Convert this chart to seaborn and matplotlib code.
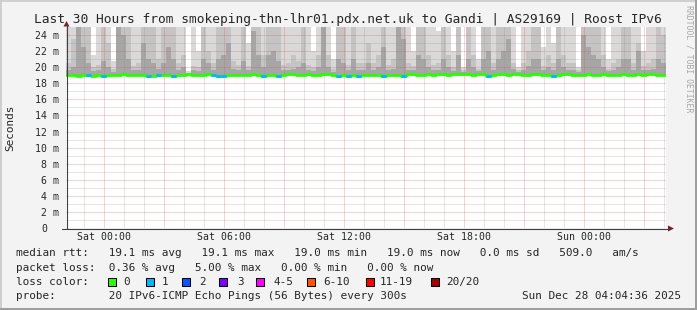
import numpy as np
import pandas as pd
import matplotlib
matplotlib.use("Agg")
import matplotlib.pyplot as plt
import matplotlib.transforms as mtransforms
from matplotlib.patches import Rectangle, Polygon
from matplotlib.lines import Line2D
import seaborn as sns

# ---------------- data ----------------
TITLE = "Last 30 Hours from smokeping-thn-lhr01.pdx.net.uk to Gandi | AS29169 | Roost IPv6"
T_START = -1.9233          # hours relative to Sat 00:00 (Fri 22:04:36)
BIN_H = 0.25               # 15 minute bins
x_tick_pos = [0, 6, 12, 18, 24]
x_tick_labels = ["Sat 00:00", "Sat 06:00", "Sat 12:00", "Sat 18:00", "Sun 00:00"]
y_tick_pos = [0, 2, 4, 6, 8, 10, 12, 14, 16, 18, 20, 22, 24]
y_tick_labels = ["0", "2 m", "4 m", "6 m", "8 m", "10 m", "12 m", "14 m", "16 m",
                 "18 m", "20 m", "22 m", "24 m"]

median_ms = [
    19.0, 19.0, 18.9, 19.0, 19.0, 18.9, 19.0, 18.9, 19.0, 19.0,
    19.0, 19.1, 19.0, 19.0, 19.0, 19.0, 18.9, 18.9, 19.0, 19.0,
    19.0, 18.9, 19.0, 19.0, 19.1, 19.0, 19.0, 19.0, 19.1, 19.0,
    18.9, 18.9, 19.0, 19.0, 19.0, 19.0, 19.0, 19.1, 19.0, 18.9,
    19.0, 19.0, 18.9, 19.0, 19.1, 19.1, 19.0, 19.0, 19.1, 19.0,
    19.0, 19.1, 19.1, 19.0, 18.9, 19.0, 18.9, 19.0, 18.9, 19.0,
    19.0, 19.0, 19.0, 18.9, 19.0, 19.0, 19.0, 18.9, 19.1, 19.1,
    19.0, 19.0, 19.1, 19.0, 19.1, 19.1, 19.0, 19.1, 19.1, 19.1,
    19.1, 19.0, 19.1, 19.1, 18.9, 19.0, 19.1, 19.1, 19.0, 19.1,
    19.1, 19.0, 19.0, 19.1, 19.1, 19.0, 19.0, 18.9, 19.0, 19.1,
    19.1, 19.0, 19.0, 19.0, 19.1, 19.0, 19.0, 19.1, 19.0, 19.0,
    19.0, 19.1, 19.0, 19.0, 19.1, 19.0, 19.1, 19.1, 19.0, 19.0,
]
lost_pings = [0] * 120
for _i in [4, 7, 16, 18, 21, 29, 30, 31, 39, 42, 54, 56, 58, 63, 67, 84, 97]:
    lost_pings[_i] = 1

# smoke: top of the lightest (max ping), medium and darkest layers, per 15 min bin
smoke_hi = [
    25, 25, 25, 25, 25, 21.5, 25, 25, 25, 20.8,
    25, 25, 25, 25, 25, 25, 25, 25, 25, 25,
    25, 25, 25, 25, 19.5, 25, 22, 25, 25, 25,
    25, 25, 25, 25, 25, 25, 23, 25, 25, 25,
    25, 25, 25, 25, 25, 25, 25, 25, 25, 22,
    25, 25, 25, 21, 25, 25, 25, 25, 25, 25,
    25, 25, 25, 25, 25, 25, 25, 25, 25, 22,
    25, 25, 25, 25, 24.5, 25, 25, 22, 25, 20,
    25, 25, 21, 25, 25, 25, 25, 25, 25, 25,
    20, 25, 25, 25, 25, 22.5, 25, 23, 25, 25,
    25, 25, 20, 25, 25, 25, 25, 25, 21, 25,
    25, 25, 25, 25, 25, 22, 25, 25, 25, 25,
]
smoke_mid = [
    20.5, 23.5, 25, 25, 25, 20, 20.3, 25, 23, 19.8,
    25, 25, 25, 20.2, 20.5, 25, 25, 25, 21, 25,
    25, 25, 20.5, 21.5, 19.3, 20.2, 20, 25, 22, 20.5,
    25, 25, 25, 20.8, 20.3, 25, 20.2, 25, 25, 21.5,
    25, 25, 25, 20.3, 20.5, 21.5, 20.8, 25, 20.3, 20,
    21.5, 25, 21.5, 19.8, 25, 25, 20.3, 25, 20.5, 20.5,
    23, 20.5, 21.5, 25, 20.3, 21, 25, 25, 20.5, 20.2,
    25, 25, 21.5, 20.3, 20.5, 25, 21.5, 20, 25, 19.6,
    25, 21.5, 19.8, 25, 25, 20.5, 25, 25, 25, 20.5,
    19.6, 20.5, 22, 25, 25, 20.2, 21.5, 20.5, 25, 21.5,
    20.5, 20.5, 19.6, 25, 25, 25, 25, 21.5, 19.8, 20.5,
    21, 25, 25, 20.5, 23, 20.2, 20.5, 21, 25, 24,
]
smoke_low = [
    19.6, 20, 25, 22.5, 20.5, 19.5, 19.6, 20.8, 20, 19.4,
    25, 24, 21, 19.6, 19.7, 23, 21, 20.5, 19.8, 20.5,
    22.5, 21, 19.7, 20, 19.2, 19.6, 19.5, 21, 20.5, 19.7,
    21, 21.5, 23, 19.8, 19.6, 20.8, 19.6, 24.5, 21.5, 20,
    21.5, 22, 20.8, 19.6, 19.7, 19.8, 20, 20.5, 19.6, 19.5,
    20, 25, 20, 19.4, 21, 20.5, 19.6, 21, 19.7, 19.7,
    20.5, 19.7, 20, 22.5, 19.6, 19.8, 25, 23.5, 19.7, 19.6,
    21.5, 21, 20, 19.6, 19.7, 21, 20, 19.5, 21.5, 19.4,
    21, 20, 19.5, 21, 22, 19.7, 21, 22, 23.5, 19.8,
    19.4, 19.7, 20.2, 21, 21, 19.7, 20, 19.7, 21, 20,
    19.7, 19.7, 19.4, 24, 22.5, 21.5, 21, 20, 19.5, 19.7,
    20, 21, 21, 19.7, 22, 19.6, 19.7, 19.8, 21, 20.5,
]

loss_labels = ["0", "1", "2", "3", "4-5", "6-10", "11-19", "20/20"]
loss_colors = ["#26ff00", "#00b8ff", "#0059ff", "#7e00ff", "#ff00ff", "#ff5500", "#ff0000", "#a00000"]

legend_row1 = "median rtt:   19.1 ms avg   19.1 ms max   19.0 ms min   19.0 ms now   0.0 ms sd   509.0   am/s"
legend_row2 = "packet loss:  0.36 % avg   5.00 % max   0.00 % min   0.00 % now"
legend_row3 = "loss color:"
legend_row4 = "probe:        20 IPv6-ICMP Echo Pings (56 Bytes) every 300s"
stamp = "Sun Dec 28 04:04:36 2025"
watermark = "RRDTOOL / TOBI OETIKER"
ylabel = "Seconds"

# ---------------- style ----------------
sns.set_style("white")
plt.rcParams["font.family"] = ["DejaVu Sans Mono", "DejaVu Sans"]

W, H = 697, 310
BACK = "#f3f3f3"
LIGHT, MID, DARK = "#d9d9d9", "#c4c4c4", "#a6a6a6"
GRID = (0.56, 0.56, 0.56, 0.46)
MGRID = (0.87, 0.31, 0.31, 0.5)
AXIS = "#404040"
ARROW = "#7f1f1f"


def fx(x):
    return x / W


def fy(y):
    return 1 - y / H


fig = plt.figure(figsize=(W / 100, H / 100), dpi=100)
fig.patch.set_facecolor(BACK)
ax = fig.add_axes([fx(66), fy(228), 600 / W, 201 / H])
ax.set_facecolor("white")

n = len(median_ms)
edges = T_START + BIN_H * np.arange(n + 1)
med = np.array(median_ms + [median_ms[-1]], dtype=float)
hi = np.array(smoke_hi + [smoke_hi[-1]], dtype=float)
mid = np.array(smoke_mid + [smoke_mid[-1]], dtype=float)
low = np.array(smoke_low + [smoke_low[-1]], dtype=float)

ax.fill_between(edges, med, np.maximum(hi, med), step="post", color=LIGHT, lw=0, zorder=1)
ax.fill_between(edges, med, np.maximum(mid, med), step="post", color=MID, lw=0, zorder=1.1)
ax.fill_between(edges, med, np.maximum(low, med), step="post", color=DARK, lw=0, zorder=1.2)

df = pd.DataFrame({"t": edges, "rtt": med})
sns.lineplot(data=df, x="t", y="rtt", ax=ax, color=loss_colors[0], lw=2.0,
             drawstyle="steps-post", estimator=None, zorder=3)
for i, lp in enumerate(lost_pings):
    if lp > 0:
        ax.hlines(median_ms[i], edges[i], edges[i + 1], color=loss_colors[lp], lw=2.0, zorder=3.1)

ax.set_xlim(T_START, T_START + 30)
ax.set_ylim(0, 25)
ax.set_xlabel("")
ax.set_ylabel("")
for s in ax.spines.values():
    s.set_visible(False)

# grid
ax.set_axisbelow(False)
ax.set_xticks(x_tick_pos)
ax.set_xticklabels(x_tick_labels, fontsize=7.1)
ax.set_yticks(y_tick_pos)
ax.set_yticklabels(y_tick_labels, fontsize=7.1)
ax.tick_params(axis="both", length=0)
ax.tick_params(axis="x", pad=3.2)
ax.tick_params(axis="y", pad=4.9)
for h in np.arange(-1, 29, 1):
    c = MGRID if h % 3 == 0 else GRID
    ax.axvline(h, color=c, lw=0.72, ls=(0, (1, 1)), zorder=2.5)
for v in range(1, 25):
    c = MGRID if v % 2 == 0 else GRID
    ax.axhline(v, color=c, lw=0.72, ls=(0, (1, 1)), zorder=2.5)

# shift "0" label like rrdtool (value + blank unit)
for lab in ax.get_yticklabels():
    if lab.get_text() == "0":
        lab.set_transform(lab.get_transform() +
                          mtransforms.ScaledTranslation(-12 / 100, 0, fig.dpi_scale_trans))

# axes lines and arrows
fig.add_artist(Line2D([fx(66.5), fx(66.5)], [fy(228.5), fy(24)], color=AXIS, lw=0.8))
fig.add_artist(Line2D([fx(62), fx(670)], [fy(228.5), fy(228.5)], color=AXIS, lw=0.8))
fig.add_artist(Polygon([[fx(63.5), fy(26.5)], [fx(69.5), fy(26.5)], [fx(66.5), fy(21)]],
                       closed=True, color=ARROW, lw=0))
fig.add_artist(Polygon([[fx(668), fy(225.5)], [fx(668), fy(231.5)], [fx(674), fy(228.5)]],
                       closed=True, color=ARROW, lw=0))

# frame bevel
fig.add_artist(Rectangle((0, fy(2)), 1, 2 / H, color="#cfcfcf", lw=0))
fig.add_artist(Rectangle((0, 0), 2 / W, 1, color="#cfcfcf", lw=0))
fig.add_artist(Rectangle((0, 0), 1, 2 / H, color="#9e9e9e", lw=0))
fig.add_artist(Rectangle((fx(695), 0), 2 / W, 1, color="#9e9e9e", lw=0))

# texts
fig.text(fx(348), fy(19), TITLE, ha="center", va="center", fontsize=9.3)
fig.text(fx(10), fy(127.5), ylabel, rotation=90, ha="center", va="center", fontsize=7.9)
fig.text(fx(689), fy(5), watermark, rotation=270, ha="center", va="top",
         fontsize=5.9, color="#a8a8a8")

fig.text(fx(16), fy(253.5), legend_row1, ha="left", va="center", fontsize=7.9)
fig.text(fx(16), fy(267.7), legend_row2, ha="left", va="center", fontsize=7.9)
fig.text(fx(16), fy(281.7), legend_row3, ha="left", va="center", fontsize=7.9)
fig.text(fx(16), fy(296), legend_row4, ha="left", va="center", fontsize=7.9)
fig.text(fx(681), fy(296), stamp, ha="right", va="center", fontsize=7.9)

box_x = [108, 146, 182, 219, 256, 307, 366, 431]
lab_x = [123, 162, 199, 237, 273, 323, 380, 446]
for bx, lx, lab, col in zip(box_x, lab_x, loss_labels, loss_colors):
    fig.add_artist(Rectangle((fx(bx), fy(286)), 8 / W, 8 / H, facecolor=col,
                             edgecolor="black", lw=0.75))
    fig.text(fx(lx), fy(281.7), lab, ha="left", va="center", fontsize=7.9)

fig.savefig("out.png", dpi=100, facecolor=BACK)
